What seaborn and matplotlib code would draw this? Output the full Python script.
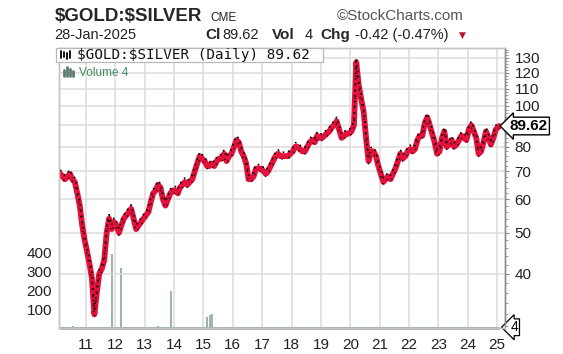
import matplotlib

matplotlib.use("Agg")
import matplotlib.dates as mdates
import matplotlib.pyplot as plt
import matplotlib.ticker as mticker
import matplotlib.transforms as mtransforms
from matplotlib.lines import Line2D
from matplotlib.patches import Rectangle
import pandas as pd
import seaborn as sns

# monthly gold/silver ratio (Feb 2010 .. Jan 2025)
MONTHS = list(pd.date_range("2010-02-01", "2024-12-01", freq="MS") + pd.Timedelta(days=14))
MONTHS.append(pd.Timestamp("2025-01-28"))
RATIO = [
    69, 68, 67, 68, 69, 67, 66, 62, 58, 52, 48,          # 2010
    45, 42, 39, 32, 36, 40, 41, 43, 50, 54, 51, 53,      # 2011
    52, 50, 52, 54, 55, 56, 57, 54, 51, 52, 53, 54,      # 2012
    55, 56, 59, 62, 63, 65, 64, 60, 58, 60, 62, 63,      # 2013
    63, 62, 64, 65, 66, 65, 66, 67, 70, 73, 76, 75,      # 2014
    74, 72, 72, 73, 72, 74, 75, 75, 77, 74, 76, 77,      # 2015
    80, 83, 82, 78, 76, 73, 67, 67, 68, 71, 71, 71,      # 2016
    70, 69, 70, 72, 74, 76, 77, 76, 76, 76, 76, 77,      # 2017
    78, 80, 80, 79, 78, 78, 80, 82, 83, 82, 85, 84,      # 2018
    84, 85, 86, 87, 89, 90, 92, 88, 84, 85, 86, 86,      # 2019
    87, 90, 127, 112, 104, 97, 84, 74, 78, 78, 76, 72,   # 2020
    69, 66, 67, 68, 67, 69, 71, 74, 77, 75, 76, 78,      # 2021
    79, 78, 79, 83, 85, 85, 91, 94, 90, 86, 82, 77,      # 2022
    78, 84, 87, 80, 81, 83, 80, 81, 83, 85, 84, 83,      # 2023
    88, 90, 87, 84, 77, 78, 82, 87, 84, 81, 84, 88,      # 2024
    89.62,                                               # 2025
]

VOL_DATES = pd.to_datetime([
    "2010-07-20", "2011-11-14", "2011-11-25", "2012-03-08", "2013-06-14",
    "2013-11-25", "2015-02-12", "2015-03-20", "2015-04-22",
])
VOLUME = [10, 390, 95, 315, 10, 195, 60, 70, 75]

PRICE_TICKS = [40, 50, 60, 70, 80, 90, 100, 110, 120, 130]
PRICE_LABELS = ["40", "50", "60", "70", "80", "", "100", "110", "120", "130"]
VOL_TICKS = [100, 200, 300, 400]

LAST = 89.62
LAST_VOL = 4

RED = "#e3123c"
VOL_COLOR = "#9cb3a7"
GRID = "#dcdcdc"

W, H = 563, 354

sns.set_theme(style="white")
plt.rcParams["font.family"] = ["Liberation Sans", "DejaVu Sans"]
plt.rcParams["text.parse_math"] = False

df = pd.DataFrame({"date": MONTHS, "ratio": RATIO})
df["upper"] = df["ratio"] * 1.022
df["lower"] = df["ratio"] * 0.985

fig = plt.figure(figsize=(W / 100, H / 100), dpi=100)
ax_vol = fig.add_axes([59 / W, 1 - 328 / H, (505 - 59) / W, (328 - 48) / H])
ax_px = ax_vol.twinx()

# volume panel (left scale)
ax_vol.vlines(VOL_DATES, 0, VOLUME, color=VOL_COLOR, lw=1.4)
ax_vol.hlines(0, df["date"].iloc[0], df["date"].iloc[-1], color=VOL_COLOR, lw=2.2, clip_on=False)
ax_vol.set_ylim(0, 1474)
ax_vol.set_yticks(VOL_TICKS)
ax_vol.tick_params(axis="y", labelsize=11, length=0, pad=5, labelcolor="#222222")

# price panel (right, log scale)
sns.lineplot(data=df, x="date", y="ratio", ax=ax_px, color=RED, lw=4.2, legend=False)
sns.lineplot(data=df, x="date", y="upper", ax=ax_px, color="black", lw=1.2,
             legend=False, linestyle=(0, (1.0, 2.4)))
sns.lineplot(data=df, x="date", y="lower", ax=ax_px, color="black", lw=1.0,
             legend=False, linestyle=(2, (0.8, 4.5)))
ax_px.set_yscale("log")
ax_px.set_ylim(29.7, 137.3)
ax_px.yaxis.set_major_locator(mticker.FixedLocator(PRICE_TICKS))
ax_px.yaxis.set_major_formatter(mticker.FixedFormatter(PRICE_LABELS))
ax_px.yaxis.set_minor_locator(mticker.FixedLocator(list(range(30, 138, 2))))
ax_px.yaxis.set_minor_formatter(mticker.NullFormatter())
ax_px.tick_params(axis="y", which="major", labelsize=11, length=3, width=0.8,
                  color="#888888", pad=4, labelcolor="#222222")
ax_px.tick_params(axis="y", which="minor", length=2, width=0.6, color="#888888")
ax_px.grid(axis="y", which="major", color=GRID, lw=1.1)
ax_px.set_xlabel("")
ax_px.set_ylabel("")
ax_vol.set_ylabel("")

ax_vol.set_xlim(pd.Timestamp("2010-01-30"), pd.Timestamp("2025-04-08"))
ax_vol.xaxis.set_major_locator(mdates.YearLocator(1))
ax_vol.xaxis.set_major_formatter(mdates.DateFormatter("%y"))
ax_vol.tick_params(axis="x", labelsize=11, length=0, pad=7, labelcolor="#222222")
ax_vol.grid(axis="x", color=GRID, lw=1.1)

for a in (ax_vol, ax_px):
    for side in ("left", "top", "bottom"):
        a.spines[side].set_color("#c4c4c4")
        a.spines[side].set_linewidth(1.0)
    a.spines["right"].set_color("#8a8a8a")
    a.spines["right"].set_linewidth(1.0)

# last value tags
tr_px = mtransforms.blended_transform_factory(ax_px.transAxes, ax_px.transData)
ax_px.text(1.01, LAST, f"{LAST:.2f}", transform=tr_px, ha="left", va="center",
           fontsize=11, fontweight="bold", color="black",
           bbox=dict(boxstyle="larrow,pad=0.12", fc="white", ec="black", lw=1.0))
tr_vol = mtransforms.blended_transform_factory(ax_vol.transAxes, ax_vol.transData)
ax_vol.text(1.012, LAST_VOL, str(LAST_VOL), transform=tr_vol, ha="left", va="center",
            fontsize=10, color="black",
            bbox=dict(boxstyle="larrow,pad=0.1", fc="white", ec="black", lw=0.9))


# header
def fx(x):
    return x / W


def fy(y):
    return 1 - y / H


fig.text(fx(55), fy(21), "$GOLD:$SILVER", fontsize=13.5, fontweight="bold", va="baseline")
fig.text(fx(210), fy(21), "CME", fontsize=8.5, va="baseline", color="#222222")
fig.text(fx(337), fy(20), "\u00a9StockCharts.com", fontsize=11, va="baseline", color="#555555")
fig.text(fx(54), fy(39), "28-Jan-2025", fontsize=10.5, va="baseline", color="#222222")
fig.text(fx(205), fy(39), "Cl", fontsize=11, fontweight="bold", va="baseline")
fig.text(fx(222), fy(39), f"{LAST:.2f}", fontsize=10.5, va="baseline", color="#222222")
fig.text(fx(272), fy(39), "Vol", fontsize=11, fontweight="bold", va="baseline")
fig.text(fx(305), fy(39), str(LAST_VOL), fontsize=10.5, va="baseline", color="#222222")
fig.text(fx(320), fy(39), "Chg", fontsize=11, fontweight="bold", va="baseline")
fig.text(fx(355), fy(39), "-0.42 (-0.47%)", fontsize=10.5, va="baseline", color="#222222")
fig.text(fx(459), fy(38), "\u25bc", fontsize=6.5, va="baseline", color="#b0182a",
         family=["DejaVu Sans"])

# in-chart legend
fig.patches.append(Rectangle((fx(56), fy(62)), (323 - 56) / W, 14 / H,
                             transform=fig.transFigure, fc="white", ec="#b8b8b8", lw=0.9,
                             zorder=5))
# small bar icons next to legend entries
for x0, lo, hi in [(61, 58, 51), (64, 57, 52), (67, 59, 53), (70, 58, 51)]:
    fig.add_artist(Line2D([fx(x0), fx(x0)], [fy(lo), fy(hi)], transform=fig.transFigure,
                          color="black", lw=1.3, zorder=6))
for x0, top in [(64, 70), (67, 67), (70, 69), (73, 71)]:
    fig.add_artist(Line2D([fx(x0), fx(x0)], [fy(76), fy(top)], transform=fig.transFigure,
                          color="#5d7d6e", lw=2.0, zorder=6))
fig.text(fx(77), fy(59.5), f"$GOLD:$SILVER (Daily) {LAST:.2f}", fontsize=10.3,
         va="baseline", family=["DejaVu Sans Mono"], color="#111111", zorder=6)
fig.text(fx(79), fy(76.5), f"Volume {LAST_VOL}", fontsize=8.5, va="baseline",
         color="#3f8f63", zorder=6)

fig.savefig("out.png", dpi=100)
